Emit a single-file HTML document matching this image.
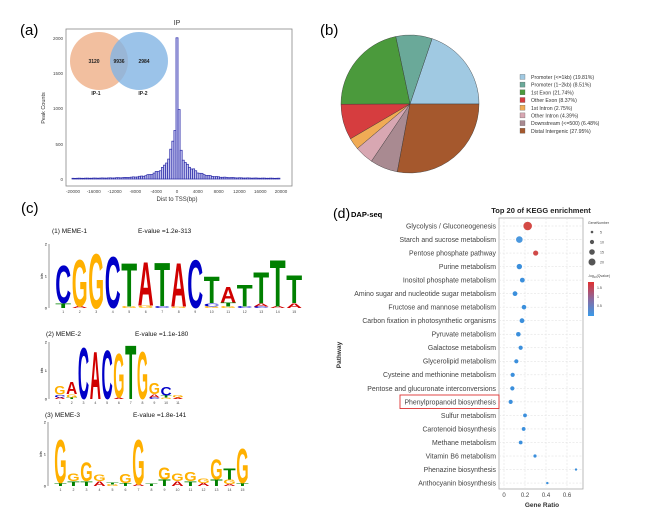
<!DOCTYPE html>
<html><head><meta charset="utf-8"><style>
html,body{margin:0;padding:0;background:#fff;}
svg{display:block;font-family:"Liberation Sans",sans-serif;}
</style></head><body>
<svg id="s" width="646" height="520" viewBox="0 0 646 520" xmlns="http://www.w3.org/2000/svg">
<rect width="646" height="520" fill="#fff"/>
<!-- (a) -->
<text x="20" y="35" font-size="15">(a)</text>
<text x="177" y="25" font-size="7" text-anchor="middle" fill="#333">IP</text>
<rect x="66" y="29" width="226" height="157" fill="#fff" stroke="#888" stroke-width="0.8"/>
<g id="hist"></g>
<g font-size="4.5" fill="#444" text-anchor="end">
<text x="63" y="40">2000</text><text x="63" y="75">1500</text><text x="63" y="110">1000</text><text x="63" y="146">500</text><text x="63" y="181">0</text>
</g>
<g id="xt" font-size="4.5" fill="#444" text-anchor="middle"></g>
<text x="177" y="201" font-size="6" text-anchor="middle" fill="#333">Dist to TSS(bp)</text>
<text x="45" y="108" font-size="5.5" fill="#333" text-anchor="middle" transform="rotate(-90 45 108)">Peak Counts</text>
<circle cx="99" cy="61" r="29" fill="#f0b48e" opacity="0.85"/>
<circle cx="139" cy="61" r="29" fill="#82b4e4" opacity="0.8"/>
<g font-size="5" font-weight="bold" text-anchor="middle" fill="#222">
<text x="94" y="63">3120</text><text x="119" y="63">9936</text><text x="144" y="63">2984</text>
<text x="96" y="95">IP-1</text><text x="143" y="95">IP-2</text></g>
<!-- (b) -->
<text x="320" y="35" font-size="15">(b)</text>
<g id="pie" stroke="#333" stroke-width="0.4"></g>
<g id="leg" font-size="5.2" fill="#333"></g>
<!-- (c) -->
<text x="21" y="213" font-size="15">(c)</text>
<g font-size="6.5" fill="#111">
<text x="52" y="233">(1)  MEME-1</text><text x="138" y="233">E-value =1.2e-313</text>
<text x="46" y="336">(2)  MEME-2</text><text x="135" y="336">E-value =1.1e-180</text>
<text x="45" y="417">(3)  MEME-3</text><text x="133" y="417">E-value =1.8e-141</text>
</g>
<g id="logos"></g>
<!-- (d) -->
<text x="333" y="218" font-size="14">(d)</text>
<text x="351" y="217" font-size="7.5" font-weight="bold">DAP-seq</text>
<text x="541" y="213" font-size="7.5" font-weight="bold" text-anchor="middle" fill="#222">Top 20 of KEGG enrichment</text>
<rect x="499" y="218" width="84" height="271" fill="#fff" stroke="#aaa" stroke-width="0.8"/>
<g id="kegg"></g>
<text x="542" y="507" font-size="6.5" font-weight="bold" text-anchor="middle" fill="#333">Gene Ratio</text>
<text x="341" y="355" font-size="6.5" font-weight="bold" text-anchor="middle" fill="#333" transform="rotate(-90 341 355)">Pathway</text>
<rect x="400" y="395" width="99" height="13.5" fill="none" stroke="#d33" stroke-width="0.9"/>
<defs><linearGradient id="cb" x1="0" y1="0" x2="0" y2="1"><stop offset="0" stop-color="#e03030"/><stop offset="0.5" stop-color="#8a6aa0"/><stop offset="1" stop-color="#3a9ae8"/></linearGradient></defs>
<g font-size="3.5" fill="#444">
<text x="588" y="224">GeneNumber</text>
<circle cx="592" cy="232" r="1.3" fill="#555"/><text x="600" y="233.5">5</text>
<circle cx="592" cy="242" r="2.1" fill="#555"/><text x="600" y="243.5">10</text>
<circle cx="592" cy="252" r="2.8" fill="#555"/><text x="600" y="253.5">15</text>
<circle cx="592" cy="262" r="3.5" fill="#555"/><text x="600" y="263.5">20</text>
<text x="588" y="277">-log<tspan font-size="2.5" dy="1">10</tspan><tspan dy="-1">(Qvalue)</tspan></text>
<rect x="588" y="282" width="6" height="34" fill="url(#cb)"/>
<text x="597" y="289">1.5</text><text x="597" y="298">1</text><text x="597" y="307">0.5</text>
</g>
</svg>
<script>
var NS="http://www.w3.org/2000/svg";
function el(p,t,a,txt){var e=document.createElementNS(NS,t);for(var k in a)e.setAttribute(k,a[k]);if(txt!=null)e.textContent=txt;p.appendChild(e);return e;}
var h=document.getElementById('hist');
var ov={0:2000,1:880,"-1":780,"-2":520,2:420,"-3":380,3:300,"-4":300,4:220,"-5":250,5:190};
for(var k=-50;k<50;k++){var d=k*400;var v=ov[k]!=null?ov[k]:(8+480*Math.exp(-Math.abs(d)/2000)+40*Math.exp(-Math.abs(d)/7000));
 v+= (Math.sin(k*1.7)*0.12)*v;
 var x=177+d*0.0052-1.04, y=179-v*0.0706;
 el(h,'rect',{x:x,y:y,width:2.08,height:179-y,fill:'#c4c4ee',stroke:'#2a2aa8','stroke-width':0.7});}
var xt=document.getElementById('xt');
for(var t=-20000;t<=20000;t+=4000){el(xt,'text',{x:177+t*0.0052,y:193},t);}
var cx=410,cy=104,r=69;
var sl=[[19.81,'#a0c9e2','Promoter (<=1kb) (19.81%)'],[8.51,'#6aa999','Promoter (1~2kb) (8.51%)'],[21.74,'#4b9a3c','1st Exon (21.74%)'],[8.37,'#d63d3f','Other Exon (8.37%)'],[2.75,'#f0ab55','1st Intron (2.75%)'],[4.39,'#d8a7b2','Other Intron (4.39%)'],[6.48,'#a98a91','Downstream (<=500) (6.48%)'],[27.95,'#a5582d','Distal Intergenic (27.95%)']];
var pie=document.getElementById('pie'),a0=0,tot=100;
sl.forEach(function(s){var a1=a0+s[0]/tot*2*Math.PI;
 var x0=cx+r*Math.cos(a0),y0=cy-r*Math.sin(a0),x1=cx+r*Math.cos(a1),y1=cy-r*Math.sin(a1);
 el(pie,'path',{d:'M'+cx+','+cy+'L'+x0+','+y0+'A'+r+','+r+' 0 '+((a1-a0)>Math.PI?1:0)+' 0 '+x1+','+y1+'Z',fill:s[1]});a0=a1;});
var lg=document.getElementById('leg');
sl.forEach(function(s,i){var y=77+i*7.7;el(lg,'rect',{x:520,y:y-2.6,width:5,height:5,fill:s[1],stroke:'#555','stroke-width':0.3});el(lg,'text',{x:531,y:y+2},s[2]);});
var col={A:'#d00000',C:'#0000c8',G:'#ffb000',T:'#008000'};
var lw={A:72,C:72,G:78,T:61};
var L=document.getElementById('logos');
function logo(x0,pw,y0,bit,cols,ax){
 el(L,'line',{x1:ax,y1:y0,x2:ax,y2:y0-2*bit,stroke:'#333','stroke-width':0.5});
 ['0','1','2'].forEach(function(t,i){el(L,'text',{x:ax-2,y:y0-i*bit+1.5,'font-size':4,'text-anchor':'end'},t);});
 el(L,'text',{x:ax-6,y:y0-bit,'font-size':3.5,'text-anchor':'middle',transform:'rotate(-90 '+(ax-6)+' '+(y0-bit)+')'},'bits');
 cols.forEach(function(c,i){var y=y0;var x=x0+i*pw;
  for(var j=c.length-1;j>=0;j--){var L2=c[j][0],hb=c[j][1]*bit;var g=el(L,'g',{transform:'translate('+(x+0.3)+','+y+') scale('+((pw-0.6)/lw[L2])+','+(hb/72)+')'});
   el(g,'text',{x:0,y:0,'font-size':100,'font-weight':'bold',fill:col[L2],textLength:lw[L2],lengthAdjust:'spacingAndGlyphs'},L2);y-=hb;}
  el(L,'text',{x:x+pw/2,y:y0+5,'font-size':3.5,'text-anchor':'middle',fill:'#444'},i+1);});}
logo(55,16.5,308,32,[[['C',1.2],['T',0.15]],[['G',1.5],['A',0.05]],[['G',1.75]],[['C',1.65]],[['T',1.4],['G',0.05]],[['A',1.4],['G',0.08]],[['T',1.4],['C',0.06]],[['A',1.4],['G',0.04]],[['C',1.55]],[['T',0.85],['C',0.1],['G',0.05]],[['A',0.5],['T',0.12],['G',0.05]],[['T',0.7],['C',0.05]],[['T',1.0],['A',0.1],['C',0.05]],[['T',1.5],['A',0.05]],[['T',0.9],['A',0.15]]],49);
logo(54,11.8,399,28.5,[[['G',0.3],['C',0.1],['A',0.06]],[['A',0.45],['G',0.12],['T',0.06]],[['C',1.85]],[['A',1.7]],[['C',1.75]],[['G',1.6],['A',0.05]],[['T',1.95]],[['G',1.7]],[['G',0.4],['A',0.12],['C',0.06]],[['C',0.3],['T',0.08],['G',0.05]],[['G',0.1],['A',0.05]]],49);
logo(54,13,486,32,[[['G',1.4],['T',0.1]],[['G',0.25],['T',0.15]],[['G',0.6],['T',0.15]],[['G',0.2],['A',0.15]],[['T',0.07],['G',0.05]],[['G',0.3],['T',0.1]],[['G',1.45],['A',0.05]],[['T',0.08]],[['G',0.4],['T',0.2]],[['G',0.25],['A',0.15]],[['G',0.3],['T',0.15]],[['G',0.15],['A',0.1]],[['G',0.65],['T',0.2]],[['T',0.35],['G',0.15],['A',0.06]],[['G',1.1],['T',0.1]]],48);
var K=document.getElementById('kegg');
var rows=[['Glycolysis / Gluconeogenesis',623,4.3,'#d44a45'],['Starch and sucrose metabolism',598,3.3,'#4b98de'],['Pentose phosphate pathway',647,2.6,'#d04a48'],['Purine metabolism',598,2.7,'#3b8fdc'],['Inositol phosphate metabolism',607,2.4,'#3b8fdc'],['Amino sugar and nucleotide sugar metabolism',585,2.4,'#3b8fdc'],['Fructose and mannose metabolism',612,2.3,'#3b8fdc'],['Carbon fixation in photosynthetic organisms',606,2.4,'#3b8fdc'],['Pyruvate metabolism',595,2.3,'#3b8fdc'],['Galactose metabolism',602,2.1,'#3b8fdc'],['Glycerolipid metabolism',589,2.1,'#3b8fdc'],['Cysteine and methionine metabolism',578,2.1,'#3b8fdc'],['Pentose and glucuronate interconversions',577,2.1,'#3b8fdc'],['Phenylpropanoid biosynthesis',572,2.1,'#3b8fdc'],['Sulfur metabolism',615,1.9,'#3b8fdc'],['Carotenoid biosynthesis',611,1.9,'#3b8fdc'],['Methane metabolism',602,1.9,'#3b8fdc'],['Vitamin B6 metabolism',645,1.6,'#3b8fdc'],['Phenazine biosynthesis',768,1.2,'#3b8fdc'],['Anthocyanin biosynthesis',682,1.2,'#3b8fdc']];
[0,0.2,0.4,0.6].forEach(function(t){var x=504+t*105;el(K,'line',{x1:x,y1:218,x2:x,y2:489,stroke:'#ddd','stroke-width':0.5,'stroke-dasharray':'2,1.5'});el(K,'text',{x:x,y:497,'font-size':6,'text-anchor':'middle',fill:'#444'},t);});
rows.forEach(function(r,i){var y=226+i*13.53;el(K,'line',{x1:499,y1:y,x2:583,y2:y,stroke:'#ddd','stroke-width':0.5,'stroke-dasharray':'2,1.5'});
 el(K,'text',{x:496,y:y+2.4,'font-size':6.9,'text-anchor':'end',fill:'#444'},r[0]);
 el(K,'circle',{cx:r[1]/3+320,cy:y,r:r[2],fill:r[3]});});
</script>
</body></html>
